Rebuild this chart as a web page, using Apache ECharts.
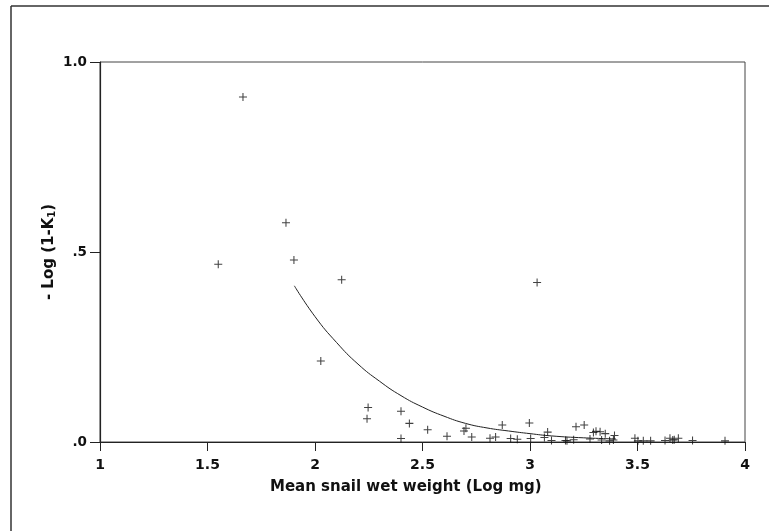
<!DOCTYPE html>
<html>
<head>
<meta charset="utf-8">
<script src="https://cdn.jsdelivr.net/npm/echarts@6/dist/echarts.min.js"></script>
<style>html,body{margin:0;padding:0;background:#fff}#c{width:769px;height:531px}</style>
</head>
<body>
<div id="c"></div>
<script>
// Observed points: [log mean snail wet weight, -log(1-K1)]
var pointX = [1.55,1.665,1.865,1.902,2.027,2.124,2.247,2.242,2.40,2.439,2.40,2.524,2.614,2.693,2.702,2.729,2.814,2.84,2.871,2.910,2.941,2.997,3.003,3.033,3.067,3.082,3.10,3.165,3.172,3.203,3.214,3.252,3.279,3.295,3.307,3.326,3.333,3.350,3.37,3.388,3.393,3.488,3.502,3.527,3.561,3.628,3.651,3.664,3.671,3.690,3.756,3.907];
var pointY = [0.468,0.908,0.577,0.479,0.213,0.427,0.091,0.061,0.081,0.049,0.009,0.032,0.015,0.029,0.036,0.013,0.010,0.013,0.045,0.009,0.007,0.050,0.009,0.420,0.012,0.026,0.004,0.004,0.003,0.006,0.040,0.045,0.008,0.025,0.028,0.027,0.005,0.022,0.003,0.005,0.017,0.010,0.003,0.003,0.003,0.004,0.010,0.005,0.006,0.010,0.004,0.003];
// Fitted curve
var curveX = [1.904,2.0,2.1,2.2,2.3,2.4,2.5,2.6,2.7,2.8,2.9,3.0,3.1,3.25,3.4];
var curveY = [0.411,0.330,0.262,0.205,0.160,0.122,0.092,0.068,0.049,0.037,0.029,0.022,0.016,0.011,0.008];
var xTicks = ['1','1.5','2','2.5','3','3.5','4'];
var yTickLabels = {'0':'.0','0.5':'.5','1':'1.0'};

var pts = pointX.map(function(x,i){return [x, pointY[i]];});
var crv = curveX.map(function(x,i){return [x, curveY[i]];});
var plus = 'path://M-0.13,-1 L0.13,-1 L0.13,-0.13 L1,-0.13 L1,0.13 L0.13,0.13 L0.13,1 L-0.13,1 L-0.13,0.13 L-1,0.13 L-1,-0.13 L-0.13,-0.13 Z';
var font = '"DejaVu Sans", Verdana, sans-serif';

var chart = echarts.init(document.getElementById('c'), null, {renderer:'canvas'});
chart.setOption({
  animation:false,
  backgroundColor:'#fff',
  grid:{left:100,right:24,top:62,bottom:89,show:true,borderColor:'#444',borderWidth:1,backgroundColor:'transparent'},
  xAxis:{type:'value',min:1,max:4,interval:0.5,
    axisLine:{show:true,onZero:false,lineStyle:{color:'#222',width:1.2}},
    axisTick:{show:true,length:9,lineStyle:{color:'#222',width:1}},
    splitLine:{show:false},
    axisLabel:{margin:16,color:'#111',fontFamily:font,fontWeight:'bold',fontSize:14,
      formatter:function(v){var i=Math.round((v-1)/0.5);return xTicks[i]!==undefined?xTicks[i]:'';}}
  },
  yAxis:{type:'value',min:0,max:1,interval:0.5,
    axisLine:{show:true,onZero:false,lineStyle:{color:'#222',width:1.2}},
    axisTick:{show:true,length:10,lineStyle:{color:'#222',width:1}},
    splitLine:{show:false},
    axisLabel:{margin:13,color:'#111',fontFamily:font,fontWeight:'bold',fontSize:13.5,
      formatter:function(v){return yTickLabels[String(v)]||'';}},
    name:'- Log (1-K{sub|1})',nameLocation:'middle',nameRotate:90,nameGap:43,nameMoveOverlap:false,
    nameTextStyle:{color:'#111',fontFamily:font,fontWeight:'bold',fontSize:15,
      rich:{sub:{fontSize:10,fontFamily:font,fontWeight:'bold',color:'#111',verticalAlign:'bottom',padding:[6,0,0,0]}}}
  },
  graphic:[
    {type:'line',shape:{x1:11,y1:6,x2:769,y2:6},style:{stroke:'#333',lineWidth:1.5}},
    {type:'line',shape:{x1:11,y1:6,x2:11,y2:531},style:{stroke:'#333',lineWidth:1.5}},
    {type:'text',left:270,top:480,style:{text:'Mean snail wet weight (Log mg)',fill:'#111',font:'bold 15px '+font}}
  ],
  series:[
    {type:'line',data:crv,smooth:true,showSymbol:false,symbol:'none',lineStyle:{color:'#222',width:1},z:2},
    {type:'scatter',data:pts,symbol:plus,symbolSize:8,itemStyle:{color:'#111'},z:3}
  ]
});
</script>
</body>
</html>
